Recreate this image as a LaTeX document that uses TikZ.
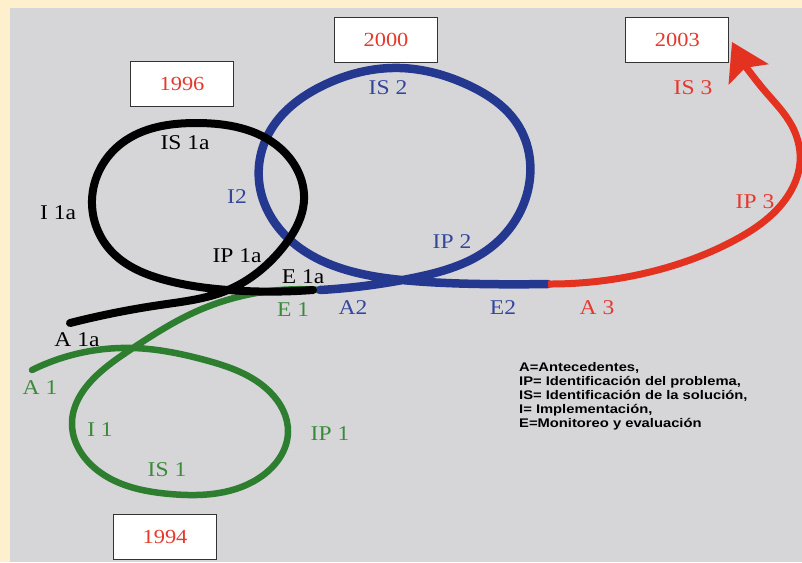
\documentclass[tikz,border=0pt]{standalone}
\usepackage{fontspec}
\setmainfont[FakeStretch=1.12]{Liberation Serif}
\newfontfamily\keyfont[FakeStretch=1.18]{Liberation Sans}
\usepackage{tikz}
\usetikzlibrary{arrows.meta,positioning,hobby}

\definecolor{cream}{RGB}{254,240,204}
\definecolor{panel}{RGB}{214,214,217}
\definecolor{cycred}{RGB}{228,50,32}
\definecolor{cycblue}{RGB}{36,56,144}
\definecolor{cycgreen}{RGB}{46,126,48}
\definecolor{txtred}{RGB}{230,56,44}
\definecolor{txtblue}{RGB}{52,70,156}
\definecolor{txtgreen}{RGB}{58,138,58}

\begin{document}
\begin{tikzpicture}[x=1pt,y=-1pt,
	year/.style={rectangle,draw=black!80,line width=1.3pt,fill=white,inner sep=0pt,
		minimum width=103pt,minimum height=45pt,text=txtred,font=\fontsize{20}{22}\selectfont},
	lbl/.style={inner sep=0pt,font=\fontsize{21}{23}\selectfont},
	loopline/.style={use Hobby shortcut,line width=8pt,line cap=round,line join=round},
	legend/.style={inner sep=0pt,align=left,anchor=north west,
		font=\keyfont\bfseries\fontsize{12.5}{14}\selectfont}
	]
\useasboundingbox (0,0) rectangle (802,562);
\fill[cream] (0,0) rectangle (802,562);
\fill[panel] (10,8) rectangle (802,562);

% junctions of the cycles
\coordinate (e1) at (320,290);
\coordinate (e2) at (548,284);
\coordinate (tip) at (732,42);

% cycle 1 (1994)
\draw[loopline,cycgreen,line width=6.5pt] (32,370) .. (133,348) .. (205,360) .. (270,392) .. (288,432) .. (262,476) .. (170,494) .. (97,470) .. (72,422) .. (95,377) .. (133,348) .. (195,312) .. (e1);

% cycle 2 (2000)
\draw[loopline,cycblue,line width=8.5pt] (e1) .. (413,278) .. (490,248) .. (528,190) .. (518,125) .. (468,85) .. (400,68) .. (322,86) .. (269,133) .. (260,188) .. (290,240) .. (350,271) .. (413,281) .. (480,284) .. (e2);

% cycle 1a (1996)
\draw[loopline,black] (70,323) .. (160,305) .. (228,290) .. (284,246) .. (304,200) .. (280,148) .. (197,123) .. (122,143) .. (92,200) .. (112,252) .. (165,280) .. (228,290) .. (313,290);

% cycle 3 (2003)
\draw[use Hobby shortcut,cycred,line width=7pt,-{Stealth[length=36pt,width=44pt,inset=7pt]}] (e2) .. (650,272) .. (735,240) .. (785,200) .. (800,162) .. (792,126) .. (764,90) .. (tip);

% years
\node[year](y1996) at (182,84) {1996};
\node[year](y2000) at (386,40) {2000};
\node[year](y2003) [right = 187pt of y2000] {2003};
\node[year](y1994) at (165,537) {1994};

% stage labels
\node[lbl](is1a) at (185,143) {IS 1a};
\node[lbl](i1a) at (58,213) {I 1a};
\node[lbl](ip1a) at (237,256) {IP 1a};
\node[lbl](e1a) at (303,277) {E 1a};
\node[lbl](a1a) at (77,340) {A 1a};

\node[lbl,text=txtblue](i2) at (237,197) {I2};
\node[lbl,text=txtblue](is2) at (388,88) {IS 2};
\node[lbl,text=txtblue](ip2) at (452,242) {IP 2};
\node[lbl,text=txtblue](a2) at (353,308) {A2};
\node[lbl,text=txtblue](e2l) at (503,308) {E2};

\node[lbl,text=txtgreen](e1l) at (293,310) {E 1};
\node[lbl,text=txtgreen](a1) at (40,388) {A 1};
\node[lbl,text=txtgreen](i1) at (100,430) {I 1};
\node[lbl,text=txtgreen](is1) at (167,470) {IS 1};
\node[lbl,text=txtgreen](ip1) at (330,434) {IP 1};

\node[lbl,text=txtred](a3) at (597,308) {A 3};
\node[lbl,text=txtred](ip3) at (755,202) {IP 3};
\node[lbl,text=txtred](is3) at (693,88) {IS 3};

% key
\node[legend](key) at (519,362) {A=Antecedentes,\\IP= Identificación del problema,\\IS= Identificación de la solución,\\I= Implementación,\\E=Monitoreo y evaluación};
\end{tikzpicture}
\end{document}
